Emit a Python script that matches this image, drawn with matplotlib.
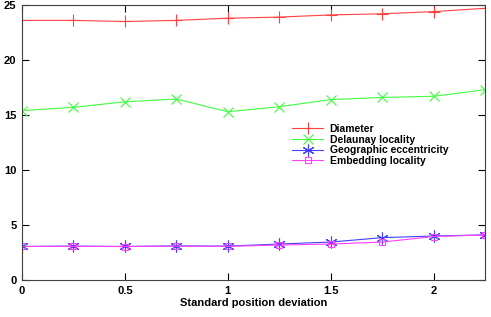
import matplotlib.pyplot as plt
import numpy as np

# Datos
x = [0, 0.25, 0.5, 0.75, 1.0, 1.25, 1.5, 1.75, 2.0, 2.25]
diametro = [23.6, 23.6, 23.5, 23.6, 23.8, 23.9, 24.1, 24.2, 24.4, 24.7]
delaunay = [15.4, 15.7, 16.2, 16.45, 15.3, 15.75, 16.4, 16.6, 16.7, 17.3]
geografica = [3.05, 3.08, 3.05, 3.1, 3.08, 3.27, 3.45, 3.85, 4.0, 4.1]
embedding = [3.05, 3.06, 3.04, 3.08, 3.06, 3.18, 3.27, 3.45, 3.95, 4.1]

plt.rcParams['font.family'] = ['Liberation Sans', 'DejaVu Sans']
plt.rcParams['font.weight'] = 'bold'

fig = plt.figure(figsize=(4.91, 3.17), dpi=100)
ax = fig.add_axes([22/491, 1-280/317, 463/491, 275/317])

ax.plot(x, diametro, color='#ff4040', lw=0.8, marker='+', ms=8, mew=0.8, label='Diameter')
ax.plot(x, delaunay, color='#40ff40', lw=0.8, marker='x', ms=7.5, mew=0.8, label='Delaunay locality')
ax.plot(x, geografica, color='#4040ff', lw=0.8, marker=(6, 2, 0), ms=8.5, mew=0.8, label='Geographic eccentricity')
ax.plot(x, embedding, color='#ff40ff', lw=0.8, marker='s', ms=5, mew=0.8, mfc='none', label='Embedding locality')

ax.set_xlim(0, 2.25)
ax.set_ylim(0, 25)
ax.set_xticks([0, 0.5, 1, 1.5, 2])
ax.set_xticklabels(['0', '0.5', '1', '1.5', '2'])
ax.set_yticks([0, 5, 10, 15, 20, 25])
ax.tick_params(direction='in', top=True, right=True, length=5, labelsize=8, pad=4)
for s in ax.spines.values():
    s.set_color('#404040')
    s.set_linewidth(0.8)
ax.set_xlabel('Standard position deviation', fontsize=8, fontweight='bold', labelpad=2)

ax.legend(loc='upper left', bbox_to_anchor=(270/463, 0.567), frameon=False,
          prop={'size': 7.5, 'weight': 'bold'}, numpoints=1, handlelength=3.0,
          handletextpad=0.6, labelspacing=0.06, borderpad=0, borderaxespad=0)

fig.savefig('out.png', dpi=100)
